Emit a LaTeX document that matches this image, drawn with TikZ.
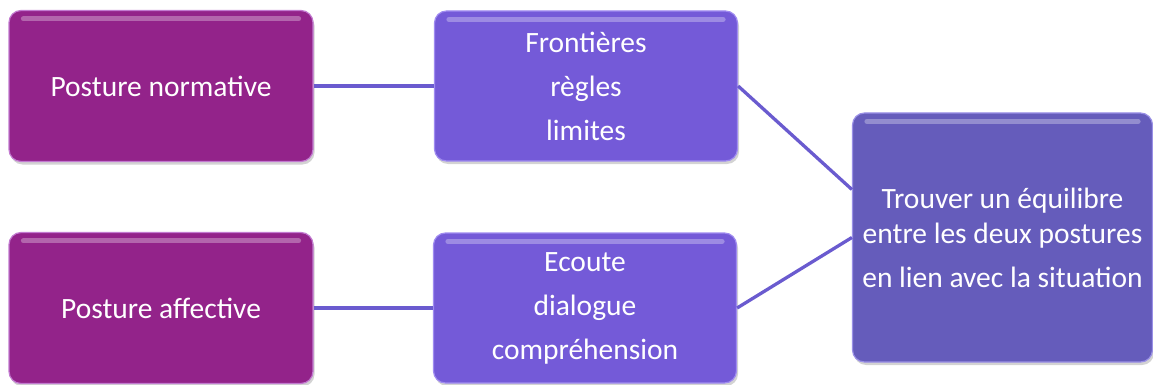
\documentclass[tikz,border=0pt]{standalone}
\usepackage{fontspec}
\setmainfont{Carlito}
\usetikzlibrary{shadows}
\definecolor{prune}{HTML}{93238A}
\definecolor{pruneedge}{HTML}{C27AD0}
\definecolor{lavande}{HTML}{745AD8}
\definecolor{lavandeedge}{HTML}{A08CF0}
\definecolor{indigo}{HTML}{655CBB}
\definecolor{indigoedge}{HTML}{9A90E6}
\definecolor{lien}{HTML}{6A5BCF}
\tikzset{
  box/.style= {rounded corners=12pt, text=white, align=center, line width=1.2pt,
    font=\fontsize{29.5}{35}\selectfont, drop shadow={shadow xshift=1.5pt, shadow yshift=-3pt, opacity=.35}},
  posture/.style= {box, fill=prune, draw=pruneedge, minimum width=304pt, minimum height=151pt},
  valeur/.style= {box, fill=lavande, draw=lavandeedge, minimum width=303pt, minimum height=150pt},
  but/.style= {box, fill=indigo, draw=indigoedge, minimum width=300pt, minimum height=249pt},
  lien/.style= {draw=lien, line width=3.3pt},
}

\begin{document}
\begin{tikzpicture}[x=1pt, y=-1pt]
  \useasboundingbox (0,0) rectangle (1153,385) ;

  \node [posture] (a) at (161,86) {Posture normative} ;
  \node [posture] (c) at (161,308) {Posture affective} ;
  \node [valeur] (b) at (586,86) {Frontières\\[9pt] règles\\[9pt] limites} ;
  \node [valeur] (d) at (585,308) {Ecoute\\[9pt] dialogue\\[9pt] compréhension} ;
  \node [but] (e) at (1002.5,237.5) {Trouver un équilibre\\ entre les deux postures\\[9pt] en lien avec la situation} ;

  % reflets
  \foreach \n in {a,b,c,d,e}
    \draw [white, opacity=.3, line width=5pt, line cap=round]
      ([xshift=15pt,yshift=-9pt]\n.north west) -- ([xshift=-15pt,yshift=-9pt]\n.north east) ;

  \draw [lien] (a.east) -- (b.west) ;
  \draw [lien] (c.east) -- (d.west) ;
  \draw [lien] (b.east) -- ([yshift=48pt]e.west) ;
  \draw [lien] (d.east) -- (e.west) ;
\end{tikzpicture}
\end{document}
